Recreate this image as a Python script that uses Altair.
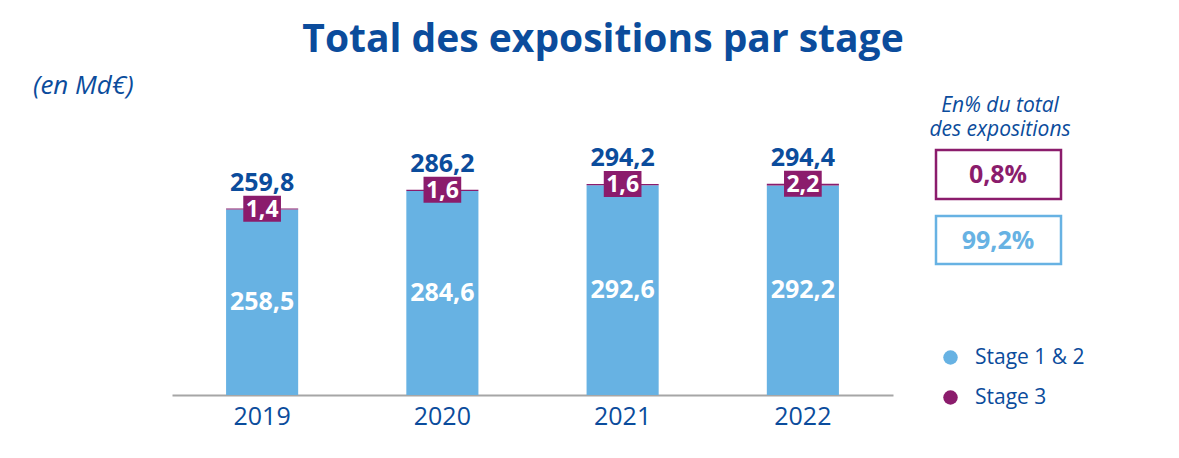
import altair as alt
import pandas as pd

# ---- data ----
years = ["2019", "2020", "2021", "2022"]
stage12 = [258.5, 284.6, 292.6, 292.2]
stage3 = [1.4, 1.6, 1.6, 2.2]
totals = [259.8, 286.2, 294.2, 294.4]
stages = ["Stage 1 & 2", "Stage 3"]
share_stage3 = [0.8]
share_stage12 = [99.2]

title_text = "Total des expositions par stage"
unit_text = "(en Md€)"
share_header = ["En% du total", "des expositions"]

DARK = "#0B4C9C"
LIGHT = "#67B2E3"
PURPLE = "#8B1C6C"
FONT = "Open Sans"

long_df = pd.DataFrame({
    "year": years * 2,
    "stage": [stages[0]] * len(years) + [stages[1]] * len(years),
    "value": stage12 + stage3,
    "ord": [0] * len(years) + [1] * len(years),
})
wide_df = pd.DataFrame({"year": years, "s12": stage12, "s3": stage3, "total": totals})
one = pd.DataFrame({"k": [0]})

x_enc = alt.X(
    "year:N",
    scale=alt.Scale(paddingInner=0.6, paddingOuter=0.3),
    axis=alt.Axis(title=None, labelAngle=0, domainColor="#A6A6A6", domainWidth=2,
                  ticks=False, grid=False, labelFontSize=25, labelColor=DARK,
                  labelPadding=9, labelFont=FONT),
)
y_scale = alt.Scale(domain=[0, 350], nice=False, zero=True)

bars = alt.Chart(long_df).mark_bar().encode(
    x=x_enc,
    y=alt.Y("value:Q", stack="zero", scale=y_scale, axis=None),
    color=alt.Color(
        "stage:N",
        scale=alt.Scale(domain=stages, range=[LIGHT, PURPLE]),
        legend=alt.Legend(title=None, orient="none", legendX=768, legendY=203,
                          symbolType="circle", symbolSize=210, symbolStrokeWidth=0,
                          labelFontSize=21, labelColor=DARK, labelFont=FONT,
                          rowPadding=18, labelOffset=14, padding=0),
    ),
    order=alt.Order("ord:Q", sort="ascending"),
)

inbar = alt.Chart(wide_df).transform_calculate(mid="datum.s12 / 2").mark_text(
    color="white", fontSize=25, fontWeight="bold", font=FONT, baseline="middle"
).encode(x="year:N", y=alt.Y("mid:Q", scale=y_scale), text=alt.Text("s12:Q", format=".1f"))

box = alt.Chart(wide_df).mark_point(
    shape="M-1.45,-1L1.45,-1L1.45,1L-1.45,1Z", size=676, filled=True,
    color=PURPLE, opacity=1, strokeWidth=0
).encode(x="year:N", y=alt.Y("total:Q", scale=y_scale))

boxtext = alt.Chart(wide_df).mark_text(
    color="white", fontSize=23, fontWeight="bold", font=FONT, baseline="middle", dy=1
).encode(x="year:N", y=alt.Y("total:Q", scale=y_scale), text=alt.Text("s3:Q", format=".1f"))

totaltext = alt.Chart(wide_df).mark_text(
    color=DARK, fontSize=25, fontWeight="bold", font=FONT, baseline="alphabetic", dy=-18
).encode(x="year:N", y=alt.Y("total:Q", scale=y_scale), text=alt.Text("total:Q", format=".1f"))

title = alt.Chart(one).mark_text(
    text=title_text, color=DARK, fontSize=39, fontWeight="bold", font=FONT,
    align="center", baseline="alphabetic"
).encode(x=alt.value(431), y=alt.value(-92))

unit = alt.Chart(one).mark_text(
    text=unit_text, color=DARK, fontSize=26, fontStyle="italic", font=FONT,
    align="left", baseline="alphabetic"
).encode(x=alt.value(-139), y=alt.value(-50))

hdr1 = alt.Chart(one).mark_text(
    text=share_header[0], color=DARK, fontSize=21, fontStyle="italic", font=FONT,
    align="center", baseline="alphabetic"
).encode(x=alt.value(828), y=alt.value(-32))
hdr2 = alt.Chart(one).mark_text(
    text=share_header[1], color=DARK, fontSize=21, fontStyle="italic", font=FONT,
    align="center", baseline="alphabetic"
).encode(x=alt.value(828), y=alt.value(-8))

s3_df = pd.DataFrame({"share": share_stage3})
s12_df = pd.DataFrame({"share": share_stage12})

rect3 = alt.Chart(s3_df).mark_rect(fill="white", stroke=PURPLE, strokeWidth=2.5).encode(
    x=alt.value(764), x2=alt.value(889), y=alt.value(6), y2=alt.value(55))
txt3 = alt.Chart(s3_df).transform_calculate(f="datum.share / 100").mark_text(
    color=PURPLE, fontSize=25, fontWeight="bold", font=FONT, baseline="middle"
).encode(x=alt.value(826), y=alt.value(31), text=alt.Text("f:Q", format=".1%"))

rect12 = alt.Chart(s12_df).mark_rect(fill="white", stroke=LIGHT, strokeWidth=2.5).encode(
    x=alt.value(764), x2=alt.value(889), y=alt.value(72), y2=alt.value(120))
txt12 = alt.Chart(s12_df).transform_calculate(f="datum.share / 100").mark_text(
    color=LIGHT, fontSize=25, fontWeight="bold", font=FONT, baseline="middle"
).encode(x=alt.value(826), y=alt.value(97), text=alt.Text("f:Q", format=".1%"))

chart = alt.layer(
    bars, inbar, box, boxtext, totaltext, title, unit, hdr1, hdr2, rect3, txt3, rect12, txt12
).properties(
    width=721, height=251,
    autosize=alt.AutoSizeParams(type="none"),
    padding={"left": 164, "top": 136, "right": 278, "bottom": 55},
    background="white",
).configure(
    locale={"number": {"decimal": ",", "thousands": "\u00a0", "grouping": [3],
                       "currency": ["", "\u00a0€"]}},
    font=FONT,
).configure_view(stroke=None)

chart.save("out.html", embed_options={"renderer": "svg", "actions": False})
